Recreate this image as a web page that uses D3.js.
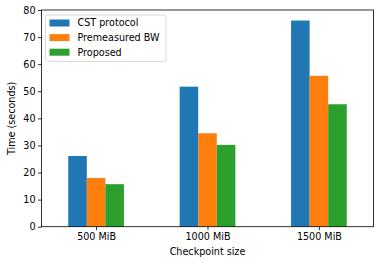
<!DOCTYPE html>
<html><head><meta charset="utf-8">
<script src="https://cdn.jsdelivr.net/npm/d3@7"></script>
<style>body{margin:0;background:#fff}svg{display:block}text{font-family:"DejaVu Sans",sans-serif;fill:#000}</style>
</head><body><div id="c"></div>
<script>
const categories = ["500 MiB", "1000 MiB", "1500 MiB"];
const seriesNames = ["CST protocol", "Premeasured BW", "Proposed"];
const cstValues = [26.1, 51.7, 76.1];
const premeasuredValues = [18.0, 34.5, 55.7];
const proposedValues = [15.7, 30.2, 45.2];
const yTicks = [0, 10, 20, 30, 40, 50, 60, 70, 80];
const colors = ["#1f77b4", "#ff7f0e", "#2ca02c"];
const series = [cstValues, premeasuredValues, proposedValues];

const W = 381, H = 264;
const m = {l: 41.5, r: 373.5, t: 10, b: 226.7};
const svg = d3.select("#c").append("svg").attr("width", W).attr("height", H);
const x = d3.scaleLinear().domain([-0.49, 2.49]).range([m.l, m.r]);
const y = d3.scaleLinear().domain([0, 80]).range([m.b, m.t]);
const bw = 1/6;

series.forEach((vals, si) => {
  svg.append("g").selectAll("rect").data(vals).join("rect")
    .attr("x", (d, i) => x(i + (si - 1.5) * bw))
    .attr("width", x(bw) - x(0))
    .attr("y", d => y(d))
    .attr("height", d => y(0) - y(d))
    .attr("fill", colors[si]);
});

const fs = 9.6;
const yAxis = d3.axisLeft(y).tickValues(yTicks).tickSize(3.5).tickPadding(2.5);
const gy = svg.append("g").attr("transform", `translate(${m.l},0)`).call(yAxis);
const xAxis = d3.axisBottom(x).tickValues([0,1,2]).tickFormat(i => categories[i]).tickSize(3.5).tickPadding(2.5);
const gx = svg.append("g").attr("transform", `translate(0,${m.b})`).call(xAxis);
[gx, gy].forEach(g => {
  g.select(".domain").remove();
  g.selectAll("line").attr("stroke", "#000").attr("stroke-width", 0.8);
  g.selectAll("text").attr("font-size", fs).attr("font-family", "DejaVu Sans").attr("fill", "#000");
});
svg.append("rect").attr("x", m.l).attr("y", m.t).attr("width", m.r - m.l).attr("height", m.b - m.t)
  .attr("fill", "none").attr("stroke", "#000").attr("stroke-width", 0.8);

svg.append("text").attr("x", (m.l + m.r) / 2).attr("y", 255).attr("text-anchor", "middle")
  .attr("font-size", fs).text("Checkpoint size");
svg.append("text").attr("transform", `translate(14.5,${(m.t + m.b) / 2}) rotate(-90)`)
  .attr("text-anchor", "middle").attr("font-size", fs).text("Time (seconds)");

const lg = svg.append("g");
lg.append("rect").attr("x", 45.5).attr("y", 15).attr("width", 120.5).attr("height", 46.5).attr("rx", 2)
  .attr("fill", "#fff").attr("fill-opacity", 0.8).attr("stroke", "#d0d0d0").attr("stroke-width", 0.8);
seriesNames.forEach((n, i) => {
  const cy = 23 + i * 14.6;
  lg.append("rect").attr("x", 49.5).attr("y", cy - 3.5).attr("width", 20).attr("height", 7).attr("fill", colors[i]);
  lg.append("text").attr("x", 77.5).attr("y", cy + 3.4).attr("font-size", fs).text(n);
});
</script></body></html>
